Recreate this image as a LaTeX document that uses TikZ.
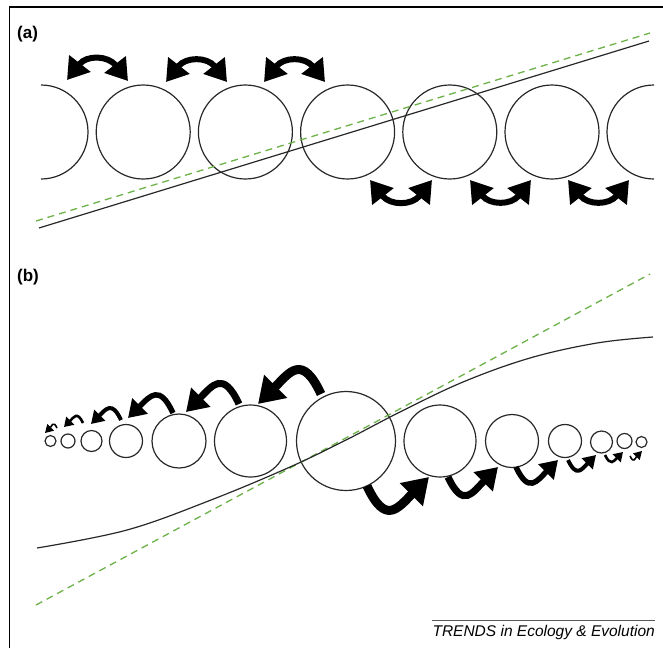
\documentclass[tikz,border=0pt]{standalone}
\usepackage{fontspec}
\setmainfont{Liberation Sans}
\usetikzlibrary{arrows.meta}
\definecolor{dashgreen}{RGB}{108,178,72}
\definecolor{inkgray}{RGB}{40,40,40}
\begin{document}
\begin{tikzpicture}[x=1pt,y=1pt,
  ring/.style={circle, draw=inkgray, line width=1.2pt, inner sep=0pt, minimum size=#1},
  arcline/.style={draw=inkgray, line width=1.2pt},
  trait/.style={draw=inkgray, line width=1.2pt},
  neutral/.style={draw=dashgreen, line width=1.3pt, dash pattern=on 7pt off 5pt},
  swaparrow/.style n args={3}{line width=#1, {Triangle[length=#2,width=#3]}-{Triangle[length=#2,width=#3]}},
  migarrow/.style n args={3}{line width=#1, -{Triangle[length=#2,width=#3]}},
  leftmig/.style={out=115, in=45, looseness=1.8},
  rightmig/.style={out=-65, in=-135, looseness=1.8},
  panel/.style={font=\fontsize{17}{20}\selectfont\bfseries, anchor=base west, inner sep=0pt},
]
\useasboundingbox (0,0) rectangle (663,-648);
% frame
\draw[line width=1.4pt] (9.5,-648) -- (9.5,-7) -- (663,-7);

% ---------- panel (a) ----------
\node[panel] (la) at (17,-38) {(a)};
\draw[arcline] (41,-85) arc[start angle=90, end angle=-90, radius=47];
\node[ring=94pt] (a2) at (143.2,-132) {};
\node[ring=94pt] (a3) at (245.4,-132) {};
\node[ring=94pt] (a4) at (347.6,-132) {};
\node[ring=94pt] (a5) at (449.8,-132) {};
\node[ring=94pt] (a6) at (552,-132) {};
\draw[arcline] (654,-85) arc[start angle=90, end angle=270, radius=47];

\coordinate (sa1) at (39,-228);  \coordinate (sa2) at (649,-41);
\coordinate (da1) at (36,-221);  \coordinate (da2) at (650,-33);
\draw[neutral] (da1) -- (da2);
\draw[trait] (sa1) -- (sa2);

\coordinate (t1l) at (67,-80);   \coordinate (t1r) at (128,-81);
\coordinate (t2l) at (166,-82);  \coordinate (t2r) at (227,-82);
\coordinate (t3l) at (264,-82);  \coordinate (t3r) at (325,-82);
\coordinate (b1l) at (370,-180); \coordinate (b1r) at (432,-180);
\coordinate (b2l) at (470,-180); \coordinate (b2r) at (531,-180);
\coordinate (b3l) at (568,-180); \coordinate (b3r) at (629,-180);
\foreach \p in {t1,t2,t3}
  \draw[swaparrow={6pt}{21pt}{26pt}] (\p l) to[out=52, in=128, looseness=1.35] (\p r);
\foreach \p in {b1,b2,b3}
  \draw[swaparrow={6pt}{21pt}{26pt}] (\p l) to[out=-52, in=-128, looseness=1.35] (\p r);

% ---------- panel (b) ----------
\node[panel] (lb) at (17,-281) {(b)};
\node[ring=11pt] (c1) at (50.5,-441) {};
\node[ring=14pt] (c2) at (68,-441) {};
\node[ring=21pt] (c3) at (91.5,-441) {};
\node[ring=33pt] (c4) at (126,-441) {};
\node[ring=54pt] (c5) at (179,-441) {};
\node[ring=72pt] (c6) at (250.5,-441) {};
\node[ring=99pt] (c7) at (346,-441) {};
\node[ring=72pt] (c8) at (440,-441) {};
\node[ring=53pt] (c9) at (512,-441) {};
\node[ring=33pt] (c10) at (565,-441) {};
\node[ring=22pt] (c11) at (601.5,-442) {};
\node[ring=15pt] (c12) at (624.5,-441) {};
\node[ring=11pt] (c13) at (641.5,-442) {};

\coordinate (gl) at (36,-605);  \coordinate (gr) at (650,-274);
\draw[neutral] (gl) -- (gr);
\draw[trait] plot[smooth, tension=0.6] coordinates {(37,-548) (127,-530) (211,-500) (290,-467) (346,-440) (400,-412) (463,-382) (530,-358) (597,-343) (653,-337)};

% leftward migration arrows
\coordinate (l1s) at (321,-394); \coordinate (l1e) at (258,-404);
\coordinate (l2s) at (239,-404); \coordinate (l2e) at (186,-412);
\coordinate (l3s) at (173,-413); \coordinate (l3e) at (128,-418);
\coordinate (l4s) at (121,-420); \coordinate (l4e) at (91,-424);
\coordinate (l5s) at (83,-423);  \coordinate (l5e) at (64,-427);
\coordinate (l6s) at (57,-428);  \coordinate (l6e) at (45,-433);
\draw[migarrow={9pt}{25pt}{31pt}, leftmig] (l1s) to (l1e);
\draw[migarrow={7pt}{21pt}{26pt}, leftmig] (l2s) to (l2e);
\draw[migarrow={5.5pt}{17pt}{21pt}, leftmig] (l3s) to (l3e);
\draw[migarrow={4pt}{12.5pt}{15pt}, leftmig] (l4s) to (l4e);
\draw[migarrow={2.6pt}{9pt}{11pt}, leftmig] (l5s) to (l5e);
\draw[migarrow={1.6pt}{8pt}{9pt}, leftmig] (l6s) to (l6e);

% rightward migration arrows
\coordinate (r1s) at (367,-486); \coordinate (r1e) at (429,-477);
\coordinate (r2s) at (448,-477); \coordinate (r2e) at (498,-467);
\coordinate (r3s) at (516,-467); \coordinate (r3e) at (558,-460);
\coordinate (r4s) at (568,-460); \coordinate (r4e) at (596,-455);
\coordinate (r5s) at (605,-455); \coordinate (r5e) at (623,-452);
\coordinate (r6s) at (630,-456); \coordinate (r6e) at (642,-451);
\draw[migarrow={9pt}{25pt}{31pt}, rightmig] (r1s) to (r1e);
\draw[migarrow={7pt}{21pt}{26pt}, rightmig] (r2s) to (r2e);
\draw[migarrow={5.5pt}{17pt}{21pt}, rightmig] (r3s) to (r3e);
\draw[migarrow={4pt}{12.5pt}{15pt}, rightmig] (r4s) to (r4e);
\draw[migarrow={2.6pt}{9pt}{11pt}, rightmig] (r5s) to (r5e);
\draw[migarrow={1.6pt}{8pt}{9pt}, rightmig] (r6s) to (r6e);

% credit
\node[font=\fontsize{15.5}{18}\selectfont\itshape, anchor=base east, inner sep=0pt] (credit) at (655,-636) {TRENDS in Ecology \& Evolution};
\coordinate (rulel) at (432,-620); \coordinate (ruler) at (655,-620);
\draw[line width=0.8pt, black!65] (rulel) -- (ruler);
\end{tikzpicture}
\end{document}
